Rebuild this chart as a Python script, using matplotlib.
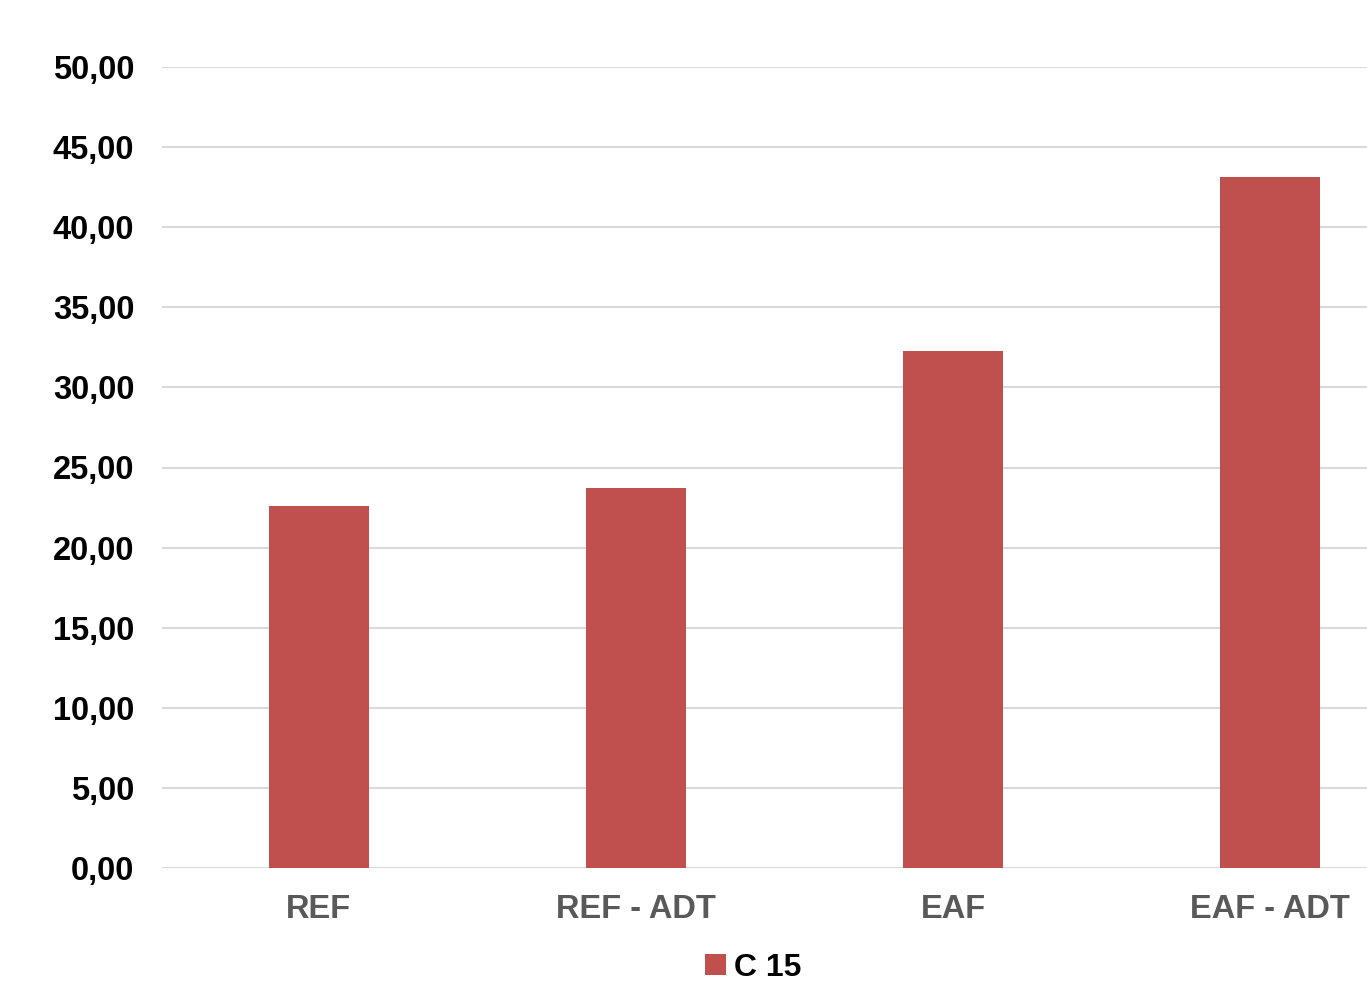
import matplotlib
matplotlib.use("Agg")
import matplotlib.pyplot as plt
import matplotlib.ticker as mtick

categories = ["REF", "REF - ADT", "EAF", "EAF - ADT"]
c15_values = [22.60, 23.75, 32.30, 43.15]
series_name = "C 15"

plt.rcParams["font.family"] = ["Liberation Sans", "DejaVu Sans"]

fig = plt.figure(figsize=(13.67, 9.82), dpi=100)
ax = fig.add_axes([162 / 1367, 1 - 868 / 982, 1 - 162 / 1367, (868 - 67) / 982])

x = list(range(len(categories)))
bars = ax.bar(x, c15_values, width=0.315, color="#c0504d", label=series_name, zorder=3)

ax.set_ylim(0, 50)
ax.set_xlim(-0.495, 3.306)
ax.set_yticks(range(0, 51, 5))
ax.yaxis.set_major_formatter(mtick.FuncFormatter(lambda v, p: f"{v:.2f}".replace(".", ",")))
ax.set_xticks(x)
ax.set_xticklabels(categories)

# horizontal gridlines only, no frame
ax.grid(axis="y", color="#d9d9d9", linewidth=1.5, zorder=0)
for s in ax.spines.values():
    s.set_visible(False)
ax.tick_params(axis="both", length=0)
ax.tick_params(axis="y", pad=20, labelsize=23.5, labelcolor="black")
ax.tick_params(axis="x", pad=19, labelsize=23.5, labelcolor="#595959")
for lbl in ax.get_yticklabels() + ax.get_xticklabels():
    lbl.set_fontweight("bold")

leg = fig.legend(handles=[bars], labels=[series_name], loc="center",
                 bbox_to_anchor=(753 / 1367, 1 - 968 / 982), frameon=False,
                 prop={"weight": "bold", "size": 23}, handlelength=0.65,
                 handleheight=0.65, handletextpad=0.25)

fig.savefig("out.png", dpi=100)
